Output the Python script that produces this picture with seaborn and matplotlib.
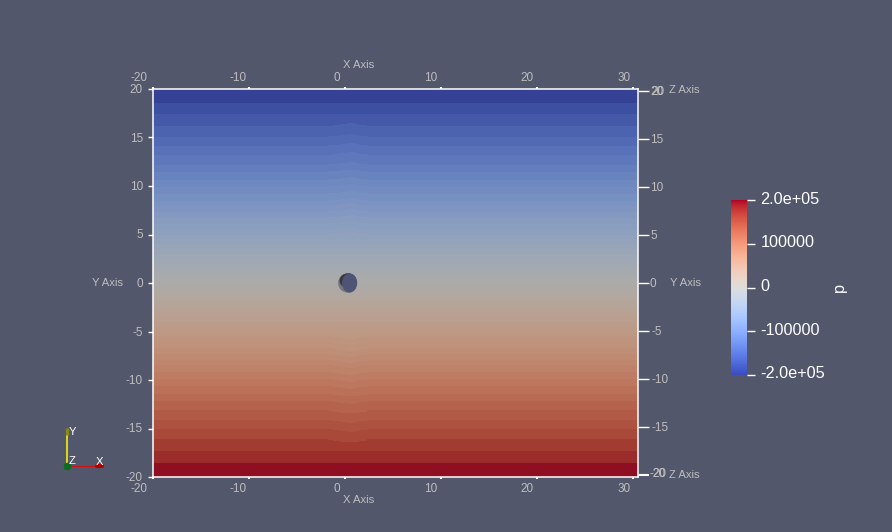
import numpy as np
import pandas as pd
import matplotlib
matplotlib.use('Agg')
import matplotlib.pyplot as plt
import seaborn as sns
from matplotlib.cm import ScalarMappable
from matplotlib.colors import LinearSegmentedColormap, Normalize
from matplotlib.patches import Ellipse
from matplotlib.transforms import ScaledTranslation

# band edges in y, top to bottom, and pressure inside each band
band_edges = [20, 18.6, 17.35, 16.15, 15.1, 14.1, 13.15, 12.2, 11.4, 10.6, 9.9, 9.2, 8.5, 7.9,
              7.3, 6.7, 6.1, 5.5, 5, 4.5, 4, 3.5, 3, 2.5, 2, 1.5, 1, 0.5, 0,
              -0.5, -1, -1.5, -2, -2.5, -3, -3.5, -4, -4.5, -5, -5.5, -6.1, -6.7, -7.3,
              -7.9, -8.5, -9.2, -9.9, -10.6, -11.4, -12.2, -13.15, -14.1, -15.1, -16.15,
              -17.35, -18.6, -20]
band_pressure = [-198000, -180000, -168000, -156000, -146000, -136000, -127000, -118000,
                 -110000, -102000, -95500, -88500, -82000, -76000, -70000, -64000, -58000,
                 -52500, -47500, -42500, -37500, -32500, -27500, -22500, -17500, -12500,
                 -7500, -2500,
                 2500, 7500, 12500, 17500, 22500, 27500, 32500, 37500, 42500, 47500, 52500,
                 58000, 64000, 70000, 76000, 82000, 88500, 95500, 102000, 110000, 118000,
                 127000, 136000, 146000, 156000, 168000, 180000, 198000]

# small arch of the bands above and below the sphere
arch_x = [-1.8, -1.2, -0.6, 0.2, 1.0, 1.6, 2.2]
arch_dy = [0.05, 0.12, 0.22, 0.3, 0.22, 0.12, 0.0]

x_ticks = [-20, -10, 0, 10, 20, 30]
y_ticks = [20, 15, 10, 5, 0, -5, -10, -15, -20]
z_side_ticks = [20, 15, 10, 5, 0, -5, -10, -15, -20]
cbar_ticks = [-200000, -100000, 0, 100000, 200000]
cbar_labels = ['-2.0e+05', '-100000', '0', '100000', '2.0e+05']

BG = '#53576C'
TICK_GREY = '#BEBEBE'

sns.set_style('white')
plt.rcParams['font.family'] = ['Liberation Sans', 'DejaVu Sans']

x_grid = np.arange(-20, 30.5, 0.25) + 0.125
y_grid = np.arange(20, -20, -0.1) - 0.05
edges_up = np.array(band_edges[::-1])
p_up = np.array(band_pressure[::-1])

field = np.zeros((len(y_grid), len(x_grid)))
for j, x in enumerate(x_grid):
    k = np.searchsorted(arch_x, x) - 1
    dy = arch_dy[k] if 0 <= k < len(arch_dy) else 0
    for i, y in enumerate(y_grid):
        yy = y
        if 5 < abs(y) < 17.3:
            yy = y - np.sign(y) * dy
        n = np.clip(np.searchsorted(edges_up, yy) - 1, 0, len(p_up) - 1)
        field[i, j] = p_up[n]
df = pd.DataFrame(field, index=y_grid, columns=x_grid)

base = plt.get_cmap('coolwarm')(np.linspace(0, 1, 256))[:, :3]
shaded = LinearSegmentedColormap.from_list('shaded', base * 0.74 + np.array([0.03, 0.03, 0.02]))

W, H = 892, 532
fig = plt.figure(figsize=(W / 100, H / 100), dpi=100, facecolor=BG)
rect = [153 / W, (H - 477) / H, 485 / W, 388 / H]

ax_map = fig.add_axes(rect)
sns.heatmap(df, ax=ax_map, cmap=shaded, vmin=-200000, vmax=200000, cbar=False,
            xticklabels=False, yticklabels=False)
ax_map.set_xlabel('')
ax_map.set_ylabel('')

ax = fig.add_axes(rect, facecolor='none')
ax.set_xlim(-20, 30.5)
ax.set_ylim(-20, 20)
ax.set_xticks(x_ticks)
ax.set_yticks(y_ticks)
ax.set_xticklabels([])
ax.set_yticklabels([])
ax.tick_params(axis='x', top=True, bottom=True, length=1.2, width=1.5, color='white')
ax.tick_params(axis='y', left=True, right=False, length=3.6, width=1, color='white')
for s in ax.spines.values():
    s.set_visible(True)
    s.set_color('white')
    s.set_linewidth(1.1)

# the right-hand axis is slightly shorter than the left one
z_scale = 0.988
for t in z_side_ticks:
    ax.plot([1, 1.0227], [t * z_scale, t * z_scale], transform=ax.get_yaxis_transform(),
            color='white', lw=1.5 if t == -20 else 1, clip_on=False, solid_capstyle='butt')

# sphere
ax.add_patch(Ellipse((0.26, 0), 1.98, 1.98, fc='#77777A', ec='none', zorder=3))
ax.add_patch(Ellipse((0.3, 0.25), 1.75, 1.5, fc='#38393E', ec='none', zorder=3))
ax.add_patch(Ellipse((0.47, 0), 1.58, 1.98, fc='#4E5476', ec='none', zorder=4))

# tick labels of the four sides
lab = dict(color=TICK_GREY, fontsize=8.5, va='center')
for t, dx in zip(x_ticks, [-14, -11, -8, -10, -10, -9]):
    ax.annotate(str(t), (t, 1), xycoords=ax.get_xaxis_transform(), xytext=(dx, 11),
                textcoords='offset pixels', ha='center', **lab)
    ax.annotate(str(t), (t, 0), xycoords=ax.get_xaxis_transform(), xytext=(dx, -12),
                textcoords='offset pixels', ha='center', **lab)
for t in y_ticks:
    ax.annotate(str(t), (0, t), xycoords=ax.get_yaxis_transform(), xytext=(-10, -1),
                textcoords='offset pixels', ha='right', **lab)
    if abs(t) < 20:
        ax.annotate(str(t), (1, t * z_scale), xycoords=ax.get_yaxis_transform(),
                    xytext=(13 if t < 0 else 12, -1), textcoords='offset pixels', ha='left', **lab)
# both ends of the z axis fall on the same corner
for txt, dx in [('20', 12), ('20', 13)]:
    ax.annotate(txt, (1, 20 * z_scale), xycoords=ax.get_yaxis_transform(), xytext=(dx, -1),
                textcoords='offset pixels', ha='left', **lab)
ax.annotate('-20', (1, -20 * z_scale), xycoords=ax.get_yaxis_transform(), xytext=(11, 1),
            textcoords='offset pixels', ha='left', **lab)
ax.annotate('20', (1, -20 * z_scale), xycoords=ax.get_yaxis_transform(), xytext=(28, 1),
            textcoords='offset pixels', ha='right', **lab)

# full-figure layer in pixel coordinates
canvas = fig.add_axes([0, 0, 1, 1], facecolor='none')
canvas.set_xlim(0, W)
canvas.set_ylim(H, 0)
canvas.axis('off')
for txt, px, py in [('X Axis', 359, 65), ('X Axis', 359, 500), ('Y Axis', 108, 283),
                    ('Y Axis', 685, 283), ('Z Axis', 684, 90), ('Z Axis', 684, 475)]:
    canvas.text(px, py, txt, color=TICK_GREY, fontsize=8.1, ha='center', va='center')

# orientation triad
canvas.plot([66.5, 66.5], [465, 431], color='#FFFF00', lw=1.1, solid_capstyle='butt')
canvas.plot([66.5, 66.5], [435, 428], color='#8A8A10', lw=2.4, solid_capstyle='butt')
canvas.plot([66, 99], [465.5, 465.5], color='#C81414', lw=0.8)
canvas.plot([97, 102], [465.5, 465.5], color='#B00000', lw=3)
canvas.plot([66.5], [465.5], 'o', color='#0A6E1E', ms=5.5, mew=0)
canvas.text(72, 432, 'Y', color='white', fontsize=8.1, ha='center', va='center')
canvas.text(72, 461, 'Z', color='white', fontsize=8.1, ha='center', va='center')
canvas.text(100, 462, 'X', color='white', fontsize=8.1, ha='center', va='center')

# colour legend
cax = fig.add_axes([731 / W, (H - 375) / H, 16 / W, 175 / H])
cbar = fig.colorbar(ScalarMappable(Normalize(-200000, 200000), 'coolwarm'), cax=cax)
cbar.outline.set_visible(False)
cbar.set_ticks(cbar_ticks)
cbar.set_ticklabels(cbar_labels)
cax.tick_params(axis='y', right=True, length=5.8, width=1, color='white', labelcolor='white',
                labelsize=11.7, pad=4)
up = ScaledTranslation(0, 2.5 / 100, fig.dpi_scale_trans)
for tl in cax.get_yticklabels():
    tl.set_transform(tl.get_transform() + up)
canvas.text(839, 287, 'p', color='white', fontsize=11.7, rotation=90, ha='center', va='center')

fig.savefig('out.png', dpi=100, facecolor=BG)
